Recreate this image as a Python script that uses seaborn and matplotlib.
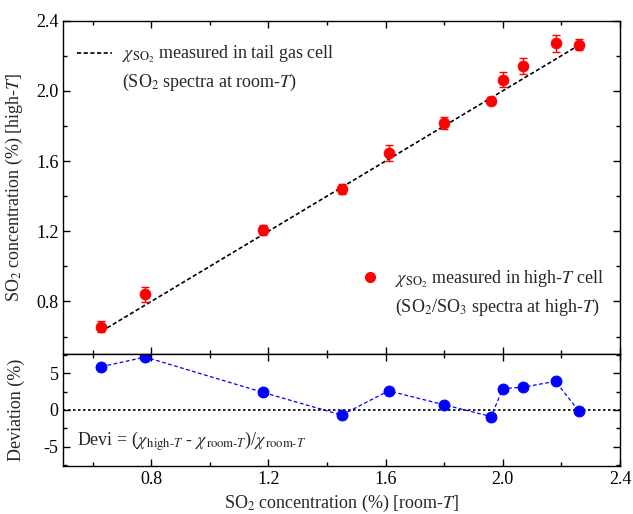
import numpy as np
import pandas as pd
import matplotlib
matplotlib.use("Agg")
import matplotlib.pyplot as plt
from matplotlib.ticker import MultipleLocator
from matplotlib.lines import Line2D
import seaborn as sns

# data
room_T = [0.63, 0.78, 1.18, 1.45, 1.61, 1.80, 1.96, 2.00, 2.07, 2.18, 2.26]
high_T = [0.657, 0.84, 1.206, 1.44, 1.646, 1.817, 1.943, 2.063, 2.143, 2.27, 2.263]
high_T_err = [0.03, 0.045, 0.03, 0.028, 0.045, 0.033, 0.02, 0.043, 0.046, 0.05, 0.03]
deviation = [5.9, 7.2, 2.4, -0.7, 2.6, 0.7, -0.9, 2.9, 3.1, 3.9, -0.2]

df = pd.DataFrame({"room": room_T, "high": high_T, "err": high_T_err, "dev": deviation})

sns.set_theme(style="ticks")
plt.rcParams["font.family"] = ["Liberation Serif", "DejaVu Serif"]
plt.rcParams["mathtext.fontset"] = "stix"
plt.rcParams["axes.edgecolor"] = "black"
plt.rcParams["axes.linewidth"] = 1.0

FS = 13

fig = plt.figure(figsize=(6.33, 5.14), dpi=100)
L, R = 0.100, 0.9795
ax1 = fig.add_axes([L, 0.311, R - L, 0.960 - 0.311])
ax2 = fig.add_axes([L, 0.094, R - L, 0.311 - 0.094], sharex=ax1)

# top panel
sns.lineplot(data=df, x="room", y="room", ax=ax1, color="black", linestyle=(0, (2.5, 1.5)),
             linewidth=1.2, legend=False)
ax1.errorbar(df["room"], df["high"], yerr=df["err"], fmt="none", ecolor="red",
             elinewidth=1.0, capsize=3, capthick=1.0, zorder=3)
sns.scatterplot(data=df, x="room", y="high", ax=ax1, color="red", s=62, edgecolor="red",
                linewidth=0.5, zorder=4, legend=False)

ax1.set_xlim(0.5, 2.4)
ax1.set_ylim(0.5, 2.4)
ax1.yaxis.set_major_locator(MultipleLocator(0.4))
ax1.yaxis.set_minor_locator(MultipleLocator(0.2))
ax1.set_yticks([0.8, 1.2, 1.6, 2.0, 2.4])
ax1.set_ylabel(r"SO$_2$ concentration (%) [high-$T$]", fontsize=FS)
ax1.set_xlabel("")
plt.setp(ax1.get_xticklabels(), visible=False)

h1 = Line2D([], [], color="black", linestyle=(0, (2.5, 1.5)), linewidth=1.2)
h2 = Line2D([], [], color="red", marker="o", linestyle="none", markersize=7)
blank = Line2D([], [], linestyle="none")
leg1 = ax1.legend([h1, blank],
                  ["$\\chi_{\\mathrm{SO_2}}$ measured in tail gas cell",
                   "(SO$_2$ spectra at room-$T$)"],
                  loc="upper left", bbox_to_anchor=(0.025, 0.93), frameon=False, fontsize=FS,
                  handlelength=1.95, handletextpad=0.55, borderaxespad=0, borderpad=0,
                  labelspacing=0.4)
ax1.add_artist(leg1)
ax1.legend([h2, blank],
           ["$\\chi_{\\mathrm{SO_2}}$ measured in high-$T$ cell",
            "(SO$_2$/SO$_3$ spectra at high-$T$)"],
           loc="lower left", bbox_to_anchor=(0.535, 0.108), frameon=False, fontsize=FS,
           handlelength=1.0, handletextpad=0.85, borderaxespad=0, borderpad=0,
           labelspacing=0.4)

# bottom panel
ax2.axhline(0, color="black", linestyle=(0, (1.5, 1.5)), linewidth=1.2, zorder=1)
sns.lineplot(data=df, x="room", y="dev", ax=ax2, color="blue", linestyle=(0, (3, 2)),
             linewidth=0.9, marker="o", markersize=7.8, markeredgecolor="blue", legend=False)
ax2.set_ylim(-7.6, 7.6)
ax2.yaxis.set_major_locator(MultipleLocator(5))
ax2.yaxis.set_minor_locator(MultipleLocator(2.5))
ax2.xaxis.set_major_locator(MultipleLocator(0.4))
ax2.xaxis.set_minor_locator(MultipleLocator(0.2))
ax2.set_xticks([0.8, 1.2, 1.6, 2.0, 2.4])
ax2.set_xticklabels(["0.8", "1.2", "1.6", "2.0", "2.4"])
ax2.set_yticks([-5, 0, 5])
ax2.set_yticklabels(["-5", "0", "5"])
ax2.set_ylabel("Deviation (%)", fontsize=FS)
ax2.set_xlabel(r"SO$_2$ concentration (%) [room-$T$]", fontsize=FS)
ax2.text(0.025, 0.22,
         r"Devi = ($\chi_{\,\mathrm{high}\text{-}T}$ - $\chi_{\,\mathrm{room}\text{-}T}$)/$\chi_{\,\mathrm{room}\text{-}T}$",
         transform=ax2.transAxes, fontsize=FS, va="center", ha="left")

for ax in (ax1, ax2):
    ax.tick_params(which="both", direction="in", top=True, right=True, colors="black",
                   labelsize=FS)
    ax.tick_params(which="major", length=5, width=1)
    ax.tick_params(which="minor", length=3, width=1)
    for s in ax.spines.values():
        s.set_color("black")
        s.set_linewidth(1.0)

ax1.yaxis.set_label_coords(-0.068, 0.5)
ax2.yaxis.set_label_coords(-0.068, 0.5)

fig.savefig("out.png", dpi=100)
